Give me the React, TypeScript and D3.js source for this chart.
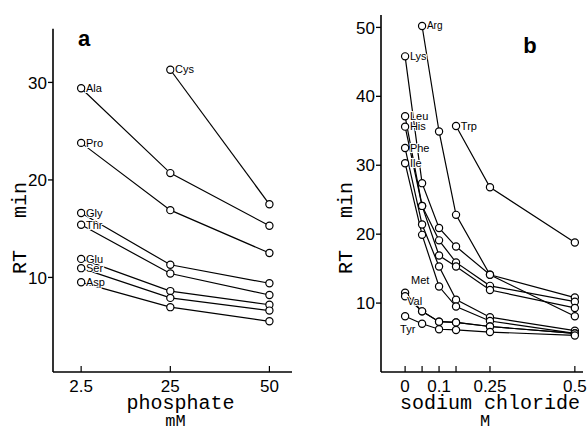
import React from "react";
import * as d3 from "d3";

// panel a: phosphate concentration (mM)
const phosphateX = [2.5, 25, 50];
const phosphateNames = ["Cys", "Ala", "Pro", "Gly", "Thr", "Glu", "Ser", "Asp"];
const phosphateRT: (number | null)[][] = [
  [null, 31.3, 17.5],
  [29.4, 20.7, 15.3],
  [23.8, 16.9, 12.5],
  [16.6, 11.3, 9.4],
  [15.4, 10.4, 8.2],
  [11.9, 8.6, 7.2],
  [10.95, 7.9, 6.6],
  [9.5, 6.95, 5.5],
];
const phosphateTicks = [2.5, 25, 50];
const phosphateYTicks = [10, 20, 30];

// panel b: sodium chloride (M)
const naclX = [0, 0.05, 0.1, 0.15, 0.25, 0.5];
const naclNames = ["Arg", "Lys", "Leu", "His", "Phe", "Ile", "Trp", "Met", "Val", "Tyr"];
const naclRT: (number | null)[][] = [
  [null, 50.2, 34.9, 22.8, 14.1, 8.1],
  [45.8, 27.4, 20.9, 18.2, 14.1, 10.8],
  [37.1, 24.1, 19.1, 15.9, 12.5, 10.2],
  [35.6, 24.1, 16.9, 15.3, 11.9, 9.3],
  [32.5, 21.4, 15.3, 10.5, 7.95, 6.0],
  [30.3, 19.9, 12.4, 9.5, 7.4, 5.6],
  [null, null, null, 35.7, 26.8, 18.8],
  [11.5, 8.8, 7.3, 7.2, 6.6, 5.6],
  [11.0, 8.8, 7.3, 7.2, 6.6, 5.6],
  [8.1, 7.0, 6.2, 6.1, 5.8, 5.3],
];
const naclTicks = [0, 0.05, 0.1, 0.15, 0.25, 0.5];
const naclTickLabels = ["0", "", "0.1", "", "0.25", "0.5"];
const naclYTicks = [10, 20, 30, 40, 50];

// a few labels sit off to the side of their marker
const labelShift: Record<string, [number, number]> = {
  Met: [6, -12],
  Val: [2, 5],
  Tyr: [-5, 13],
};

const mono = "'Liberation Mono', 'DejaVu Sans Mono', monospace";
const sans = "'Liberation Sans', Arial, sans-serif";
const R = 3.6;

type PanelProps = {
  xs: number[];
  names: string[];
  rt: (number | null)[][];
  x: d3.ScaleLinear<number, number>;
  y: d3.ScaleLinear<number, number>;
  xTicks: number[];
  xTickLabels: string[];
  yTicks: number[];
  title: string;
  unit: string;
  letter: string;
  letterX: number;
  letterY: number;
  yLabelX: number;
};

const Panel = (p: PanelProps) => {
  const [x0, x1] = p.x.range();
  const [yb, yt] = p.y.range();
  const line = d3
    .line<[number, number | null]>()
    .defined((d) => d[1] != null)
    .x((d) => p.x(d[0]))
    .y((d) => p.y(d[1] as number));
  const midX = (x0 + x1) / 2 + 8;

  return (
    <g>
      {/* axes */}
      <line x1={x0} x2={x0} y1={yt} y2={yb} stroke="#000" strokeWidth={1.6} />
      <line x1={x0} x2={x1} y1={yb} y2={yb} stroke="#000" strokeWidth={1.6} />
      {p.yTicks.map((t) => (
        <g key={"y" + t}>
          <line x1={x0 - 5} x2={x0} y1={p.y(t)} y2={p.y(t)} stroke="#000" strokeWidth={1.3} />
          <text x={x0 - 6} y={p.y(t)} dy="0.36em" textAnchor="end" fontFamily={sans} fontSize={17}>
            {t}
          </text>
        </g>
      ))}
      {p.xTicks.map((t, i) => (
        <g key={"x" + t}>
          <line x1={p.x(t)} x2={p.x(t)} y1={yb} y2={yb - 6} stroke="#000" strokeWidth={1.2} />
          <text x={p.x(t)} y={392} textAnchor="middle" fontFamily={sans} fontSize={17}>
            {p.xTickLabels[i]}
          </text>
        </g>
      ))}
      <text x={midX} y={409} textAnchor="middle" fontFamily={mono} fontSize={20}>
        {p.title}
      </text>
      <text x={midX - 5} y={426} textAnchor="middle" fontFamily={mono} fontSize={17}>
        {p.unit}
      </text>
      <text
        transform={`translate(${p.yLabelX},262) rotate(-90)`}
        textAnchor="middle"
        dy="0.35em"
        fontFamily={mono}
        fontSize={20}
      >
        RT
      </text>
      <text
        transform={`translate(${p.yLabelX},200) rotate(-90)`}
        textAnchor="middle"
        dy="0.35em"
        fontFamily={mono}
        fontSize={20}
      >
        min
      </text>
      <text x={p.letterX} y={p.letterY} textAnchor="middle" fontFamily={sans} fontWeight="bold" fontSize={22}>
        {p.letter}
      </text>

      {/* series */}
      {p.rt.map((vals, i) => {
        const pts = p.xs.map((xv, j) => [xv, vals[j]] as [number, number | null]);
        return (
          <path key={"l" + i} d={line(pts) || ""} fill="none" stroke="#000" strokeWidth={1.2} />
        );
      })}
      {p.rt.map((vals, i) => {
        const first = vals.findIndex((v) => v != null);
        const name = p.names[i];
        const [dx, dy] = labelShift[name] || [R + 1.2, 0];
        return (
          <g key={"m" + i}>
            {vals.map((v, j) =>
              v == null ? null : (
                <circle key={j} cx={p.x(p.xs[j])} cy={p.y(v)} r={R} fill="#fff" stroke="#000" strokeWidth={1.2} />
              )
            )}
            <text
              x={p.x(p.xs[first]) + dx}
              y={p.y(vals[first] as number) + dy}
              dy="0.34em"
              fontFamily={sans}
              fontSize={name === "Arg" ? 10 : 11}
              stroke="#fff"
              strokeWidth={2}
              paintOrder="stroke"
              fill="#000"
            >
              {name}
            </text>
          </g>
        );
      })}
    </g>
  );
};

export default function App() {
  const xA = d3.scaleLinear().domain([-4.6, 55.7]).range([53, 292]);
  const yA = d3.scaleLinear().domain([0.3, 35.5]).range([372, 28.8]);
  const xB = d3.scaleLinear().domain([-0.071, 0.524]).range([381, 583]);
  const yB = d3.scaleLinear().domain([0, 51.8]).range([372, 15]);

  return (
    <svg
      width={588}
      height={431}
      style={{ position: "absolute", left: 0, top: 0, background: "#fff" }}
    >
      <rect width={588} height={431} fill="#fff" />
      <Panel
        xs={phosphateX}
        names={phosphateNames}
        rt={phosphateRT}
        x={xA}
        y={yA}
        xTicks={phosphateTicks}
        xTickLabels={phosphateTicks.map(String)}
        yTicks={phosphateYTicks}
        title="phosphate"
        unit="mM"
        letter="a"
        letterX={84}
        letterY={46}
        yLabelX={19}
      />
      <Panel
        xs={naclX}
        names={naclNames}
        rt={naclRT}
        x={xB}
        y={yB}
        xTicks={naclTicks}
        xTickLabels={naclTickLabels}
        yTicks={naclYTicks}
        title="sodium chloride"
        unit="M"
        letter="b"
        letterX={530}
        letterY={53}
        yLabelX={345}
      />
    </svg>
  );
}
